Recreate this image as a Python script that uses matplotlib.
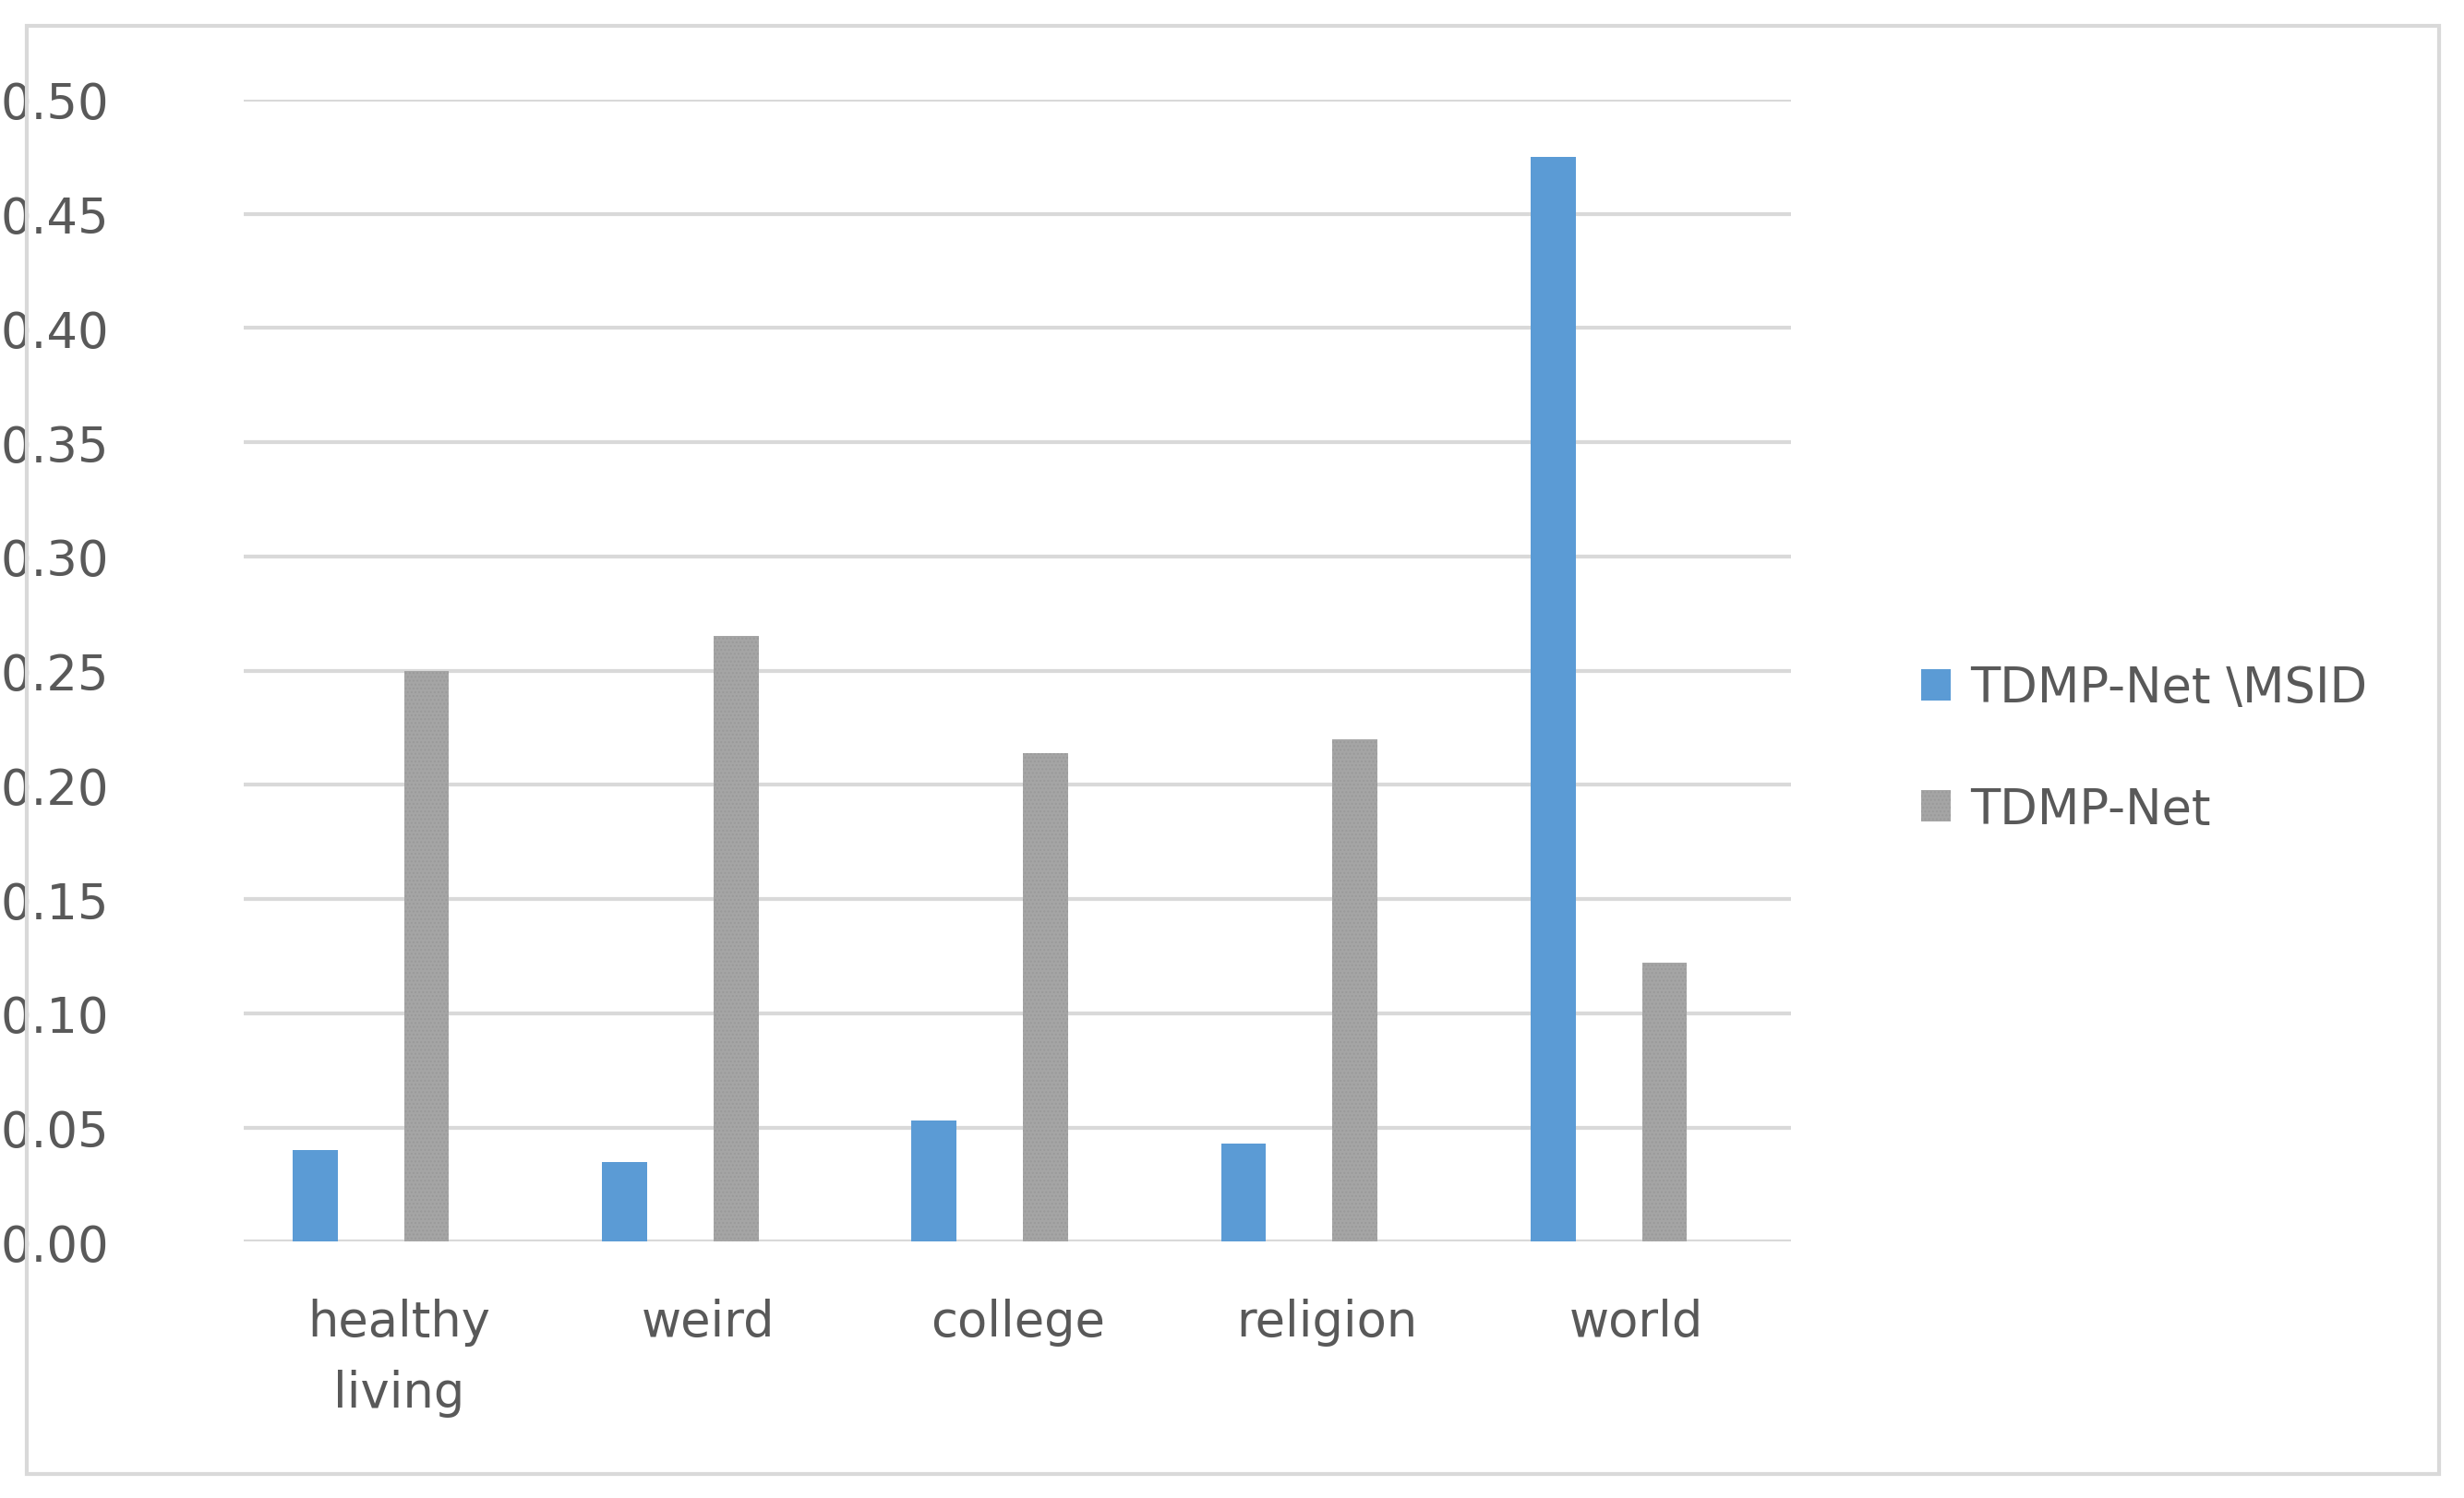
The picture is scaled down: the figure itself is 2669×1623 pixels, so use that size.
import matplotlib
matplotlib.use("Agg")
import matplotlib.pyplot as plt
import numpy as np
from matplotlib.patches import Rectangle

categories = ["healthy\nliving", "weird", "college", "religion", "world"]
series_names = ["TDMP-Net \\MSID", "TDMP-Net"]
ablation = [0.040, 0.035, 0.053, 0.043, 0.475]
full = [0.250, 0.265, 0.214, 0.220, 0.122]
yticks = [0.00, 0.05, 0.10, 0.15, 0.20, 0.25, 0.30, 0.35, 0.40, 0.45, 0.50]

blue = "#5b9bd5"
gray = "#a5a5a5"
tc = "#595959"

fig = plt.figure(figsize=(26.69, 16.24), dpi=100)
fig.patches.append(Rectangle((0.011, 0.016), 0.979, 0.966, transform=fig.transFigure,
                             fill=False, edgecolor="#d9d9d9", linewidth=3))
ax = fig.add_axes([0.099, 0.171, 0.628, 0.762])
x = np.arange(len(categories))
w = 0.145
ax.bar(x - 0.27, ablation, w, color=blue, label=series_names[0], zorder=3)
plt.rcParams['hatch.color'] = "#8c8c8c"
ax.bar(x + 0.09, full, w, color=gray, hatch="....", edgecolor="#9a9a9a", linewidth=0,
       label=series_names[1], zorder=3)
ax.set_xlim(-0.5, len(categories) - 0.5)
ax.set_ylim(0, 0.5)
ax.set_yticks(yticks)
ax.set_yticklabels([f"{v:.2f}" for v in yticks])
ax.set_xticks(x)
ax.set_xticklabels(categories, linespacing=1.6)
ax.tick_params(axis="both", length=0, labelsize=38, colors=tc)
ax.tick_params(axis="x", pad=44)
ax.tick_params(axis="y", pad=190)
for lbl in ax.get_yticklabels():
    lbl.set_horizontalalignment("left")
ax.grid(axis="y", color="#d9d9d9", linewidth=3, zorder=0)
for s in ax.spines.values():
    s.set_visible(False)
fig.legend(loc="center left", bbox_to_anchor=(0.762, 0.5), frameon=False,
           fontsize=38, labelcolor=tc, handlelength=0.6, handleheight=0.6,
           handletextpad=0.4, labelspacing=1.5)
fig.savefig("out.png", dpi=100, facecolor="white")
